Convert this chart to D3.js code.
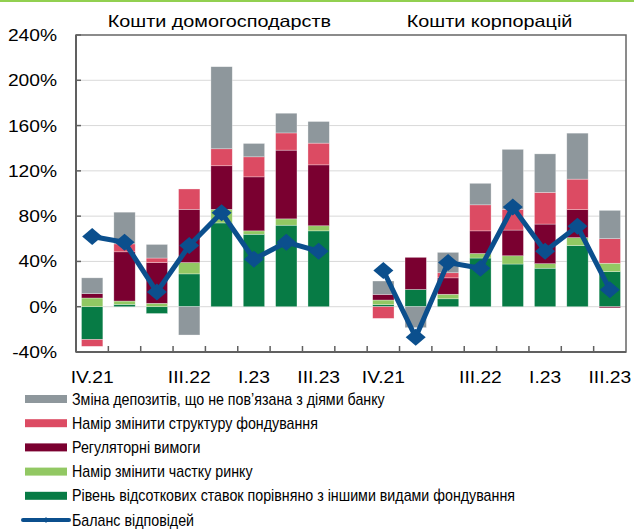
<!DOCTYPE html>
<html>
<head>
<meta charset="utf-8">
<script src="https://d3js.org/d3.v7.min.js"></script>
<style>
  body { margin: 0; background: #ffffff; }
  text { font-family: "Liberation Sans", Arial, sans-serif; fill: #000; }
</style>
</head>
<body>
<svg id="chart" width="634" height="530"></svg>
<script>
const svg = d3.select('#chart');
const WIDTH = 634;
const TEXT_STRETCH = 1.2;

// quarters for each panel
const quarters = ['IV.21', 'I.22', 'II.22', 'III.22', 'IV.22', 'I.23', 'II.23', 'III.23'];
const shownLabels = ['IV.21', 'III.22', 'I.23', 'III.23'];
const panelTitles = ['Кошти домогосподарств', 'Кошти корпорацій'];
const yTicks = [-40, 0, 40, 80, 120, 160, 200, 240];

// series (households) in % points
const hhRate = [-29, 2, -6, 29, 74, 64, 72, 67];
const hhShare = [7.7, 3, 3, 10, 12, 3, 5.6, 4.5];
const hhReg = [3.8, 43.5, 36, 47, 38.5, 47.7, 60.7, 53.8];
const hhStruct = [-6, 7, 4, 18, 15, 17.7, 15.2, 19.2];
const hhOther = [14, 28, 12, -25, 72.5, 11.8, 17.4, 19.1];
const hhBalance = [62, 57, 13, 54, 83, 42, 57, 49];

// series (corporates)
const corpRate = [1.8, 15.3, 7, 43, 37.7, 34, 54, 31];
const corpShare = [4.1, 0, 4, 4, 7.3, 4, 7, 7.4];
const corpReg = [5, 28.3, 14.5, 20, 22.7, 35, 24.7, -1];
const corpStruct = [-10.3, 0, 4.5, 23, 18.3, 28, 27, 21.7];
const corpOther = [11.8, -18.5, 18, 19, 53, 34, 40.6, 25];
const corpBalance = [32, -27, 39, 34, 88, 49, 71, 15];

const seriesKeys = ['rate', 'share', 'reg', 'struct', 'other'];
const seriesNames = {
  other: 'Зміна депозитів, що не пов’язана з діями банку',
  struct: 'Намір змінити структуру фондування',
  reg: 'Регуляторні вимоги',
  share: 'Намір змінити частку ринку',
  rate: 'Рівень відсоткових ставок порівняно з іншими видами фондування'
};
const seriesColors = {
  rate: '#077b45', share: '#92c863', reg: '#7a0030', struct: '#dc4b63', other: '#8e979c'
};
const legendOrder = ['other', 'struct', 'reg', 'share', 'rate'];
const balanceName = 'Баланс відповідей';
const BLUE = '#0b4f8d';

// build rows: 8 household quarters, one blank slot, 8 corporate quarters
const rows = [];
quarters.forEach((q, i) => rows.push({ key: 'h' + i, label: q, panel: 0,
  rate: hhRate[i], share: hhShare[i], reg: hhReg[i], struct: hhStruct[i], other: hhOther[i], balance: hhBalance[i] }));
rows.push({ key: 'gap', label: '', panel: -1, rate: 0, share: 0, reg: 0, struct: 0, other: 0, balance: null });
quarters.forEach((q, i) => rows.push({ key: 'c' + i, label: q, panel: 1,
  rate: corpRate[i], share: corpShare[i], reg: corpReg[i], struct: corpStruct[i], other: corpOther[i], balance: corpBalance[i] }));

const plot = { left: 76, right: 626, top: 35, bottom: 352 };

const x = d3.scaleBand()
  .domain(rows.map(d => d.key))
  .range([plot.left, plot.right])
  .paddingInner(0.34)
  .paddingOuter(0.17);

const y = d3.scaleLinear().domain([-40, 240]).range([plot.bottom, plot.top]);

// green rule on top
svg.append('rect').attr('x', 0).attr('y', 0).attr('width', WIDTH).attr('height', 2).attr('fill', '#92d050');

// gridlines
svg.append('g')
  .selectAll('line')
  .data(yTicks.filter(t => t > -40 && t < 240))
  .join('line')
  .attr('x1', plot.left).attr('x2', plot.right)
  .attr('y1', d => y(d)).attr('y2', d => y(d))
  .attr('stroke', '#d9d9d9').attr('stroke-width', 1);

// stacked bars
const stack = d3.stack().keys(seriesKeys).offset(d3.stackOffsetDiverging);
const stacked = stack(rows.filter(d => d.key !== 'gap'));

svg.append('g')
  .selectAll('g')
  .data(stacked)
  .join('g')
  .attr('fill', d => seriesColors[d.key])
  .selectAll('rect')
  .data(d => d)
  .join('rect')
  .attr('x', d => x(d.data.key))
  .attr('width', x.bandwidth())
  .attr('y', d => y(Math.max(d[0], d[1])))
  .attr('height', d => Math.abs(y(d[0]) - y(d[1])))
  .attr('stroke', 'rgba(255,255,255,0.5)')
  .attr('stroke-width', 0.6);

// frame
svg.append('rect')
  .attr('x', plot.left).attr('y', plot.top)
  .attr('width', plot.right - plot.left).attr('height', plot.bottom - plot.top)
  .attr('fill', 'none').attr('stroke', '#666666').attr('stroke-width', 1.5);
svg.append('line')
  .attr('x1', plot.left).attr('x2', plot.left).attr('y1', plot.top).attr('y2', plot.bottom)
  .attr('stroke', '#606060').attr('stroke-width', 2);
svg.append('line')
  .attr('x1', plot.left).attr('x2', plot.right).attr('y1', plot.bottom).attr('y2', plot.bottom)
  .attr('stroke', '#606060').attr('stroke-width', 2);

// y ticks (inside) and labels
svg.append('g').selectAll('line')
  .data(yTicks)
  .join('line')
  .attr('x1', plot.left).attr('x2', plot.left + 5)
  .attr('y1', d => y(d)).attr('y2', d => y(d))
  .attr('stroke', '#606060').attr('stroke-width', 1.5);

const yLabels = svg.append('g').selectAll('text')
  .data(yTicks)
  .join('text')
  .attr('x', 57)
  .attr('y', d => y(d) + 6)
  .attr('text-anchor', 'end')
  .attr('font-size', 16)
  .text(d => d + '%');

// x ticks at category boundaries (inside, upwards)
const boundaries = rows.slice(1).map(d => x(d.key) - x.step() * x.paddingInner() / 2);
svg.append('g').selectAll('line')
  .data(boundaries)
  .join('line')
  .attr('x1', d => d).attr('x2', d => d)
  .attr('y1', plot.bottom).attr('y2', plot.bottom - 6)
  .attr('stroke', '#606060').attr('stroke-width', 1.5);

const xLabels = svg.append('g').selectAll('text')
  .data(rows.filter(d => shownLabels.includes(d.label)))
  .join('text')
  .attr('x', d => x(d.key) + x.bandwidth() / 2)
  .attr('y', 383)
  .attr('text-anchor', 'middle')
  .attr('font-size', 16)
  .text(d => d.label);

// panel titles centred over their bars
const titles = svg.append('g').selectAll('text')
  .data(panelTitles)
  .join('text')
  .attr('x', (d, i) => {
    const keys = rows.filter(r => r.panel === i).map(r => x(r.key));
    return (d3.min(keys) + d3.max(keys) + x.bandwidth()) / 2 + (i === 0 ? 14 : -7);
  })
  .attr('y', 27)
  .attr('text-anchor', 'middle')
  .attr('font-size', 16.5)
  .text(d => d);

// balance line (one path per panel)
const line = d3.line()
  .defined(d => d.balance !== null)
  .x(d => x(d.key) + x.bandwidth() / 2)
  .y(d => y(d.balance));

svg.append('path')
  .datum(rows)
  .attr('d', line)
  .attr('fill', 'none')
  .attr('stroke', BLUE)
  .attr('stroke-width', 5)
  .attr('stroke-linejoin', 'miter');

const diamond = (w, h) => `M0,${-h}L${w},0L0,${h}L${-w},0Z`;
svg.append('g').selectAll('path')
  .data(rows.filter(d => d.balance !== null))
  .join('path')
  .attr('transform', d => `translate(${x(d.key) + x.bandwidth() / 2},${y(d.balance)})`)
  .attr('d', diamond(10, 8.5))
  .attr('fill', BLUE);

// legend
const legend = svg.append('g').attr('transform', 'translate(25,399)');
const LEG_STEP = 24.2;
legendOrder.forEach((k, i) => {
  const g = legend.append('g').attr('transform', `translate(0,${i * LEG_STEP})`);
  g.append('rect').attr('x', 0).attr('y', -4).attr('width', 42).attr('height', 8).attr('fill', seriesColors[k]);
  g.append('text').attr('class', 'leg').attr('x', 47).attr('y', 5.5).attr('font-size', 17).text(seriesNames[k]);
});
const lb = legend.append('g').attr('transform', `translate(0,${5 * LEG_STEP})`);
lb.append('line').attr('x1', -2).attr('x2', 44).attr('y1', 0).attr('y2', 0)
  .attr('stroke', BLUE).attr('stroke-width', 4).attr('stroke-linecap', 'round');
lb.append('path').attr('transform', 'translate(21,0)').attr('d', diamond(2.5, 3)).attr('fill', BLUE);
lb.append('text').attr('class', 'leg').attr('x', 47).attr('y', 5.5).attr('font-size', 17).text(balanceName);

// stretch glyphs horizontally (the source text is rendered wider than normal)
function stretch(sel, k) {
  sel.each(function () {
    const w = this.getComputedTextLength();
    d3.select(this).attr('textLength', w * k).attr('lengthAdjust', 'spacingAndGlyphs');
  });
}
stretch(yLabels, TEXT_STRETCH);
stretch(xLabels, TEXT_STRETCH);
stretch(titles, TEXT_STRETCH);
const legTexts = svg.selectAll('text.leg');
const longest = d3.max(legTexts.nodes(), n => n.getComputedTextLength());
stretch(legTexts, 443 / longest);
</script>
</body>
</html>
